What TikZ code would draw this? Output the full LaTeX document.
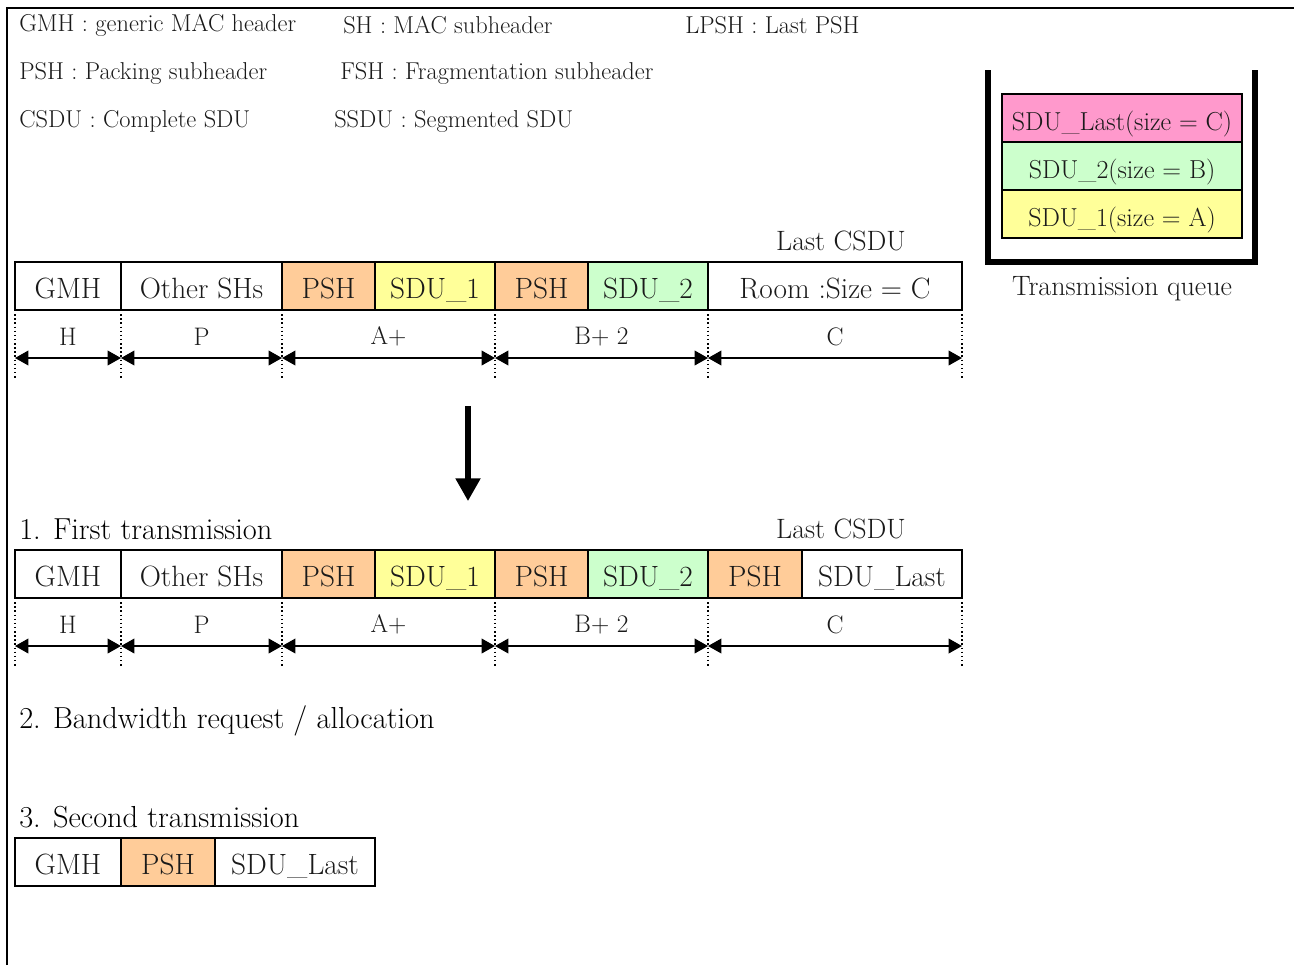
\documentclass[tikz,border=0pt]{standalone}
\usepackage{fontspec}
\usetikzlibrary{arrows.meta}
\definecolor{pshc}{HTML}{FFCC99}
\definecolor{sdua}{HTML}{FFFF99}
\definecolor{sdub}{HTML}{CCFFCC}
\definecolor{sduc}{HTML}{FF99CC}
\definecolor{txt}{HTML}{1A1A1A}
\tikzset{
  cell/.style={draw, line width=1.2pt, anchor=north west, minimum height=36pt, inner sep=0pt, outer sep=0pt,
    text height=19pt, text depth=0pt, text=txt, font=\fontsize{22}{26}\selectfont},
  cw/.style={minimum width=#1*0.75pt},
  qcell/.style={draw, line width=1.2pt, anchor=north west, minimum height=36pt, minimum width=180pt, inner sep=0pt, outer sep=0pt,
    text height=18.6pt, text depth=0pt, text=txt, font=\fontsize{19.5}{23}\selectfont},
  legend/.style={anchor=west, inner sep=0pt, text=txt, font=\fontsize{18.3}{22}\selectfont},
  head/.style={anchor=west, inner sep=0pt, text=black, font=\fontsize{22.8}{27}\selectfont},
  lbl/.style={inner sep=0pt, text=txt, font=\fontsize{21}{25}\selectfont},
  dotline/.style={line width=1.1pt, dotted},
  dim/.style={line width=1.1pt, {Triangle[length=10pt,width=11pt]}-{Triangle[length=10pt,width=11pt]}},
  dimlbl/.style={inner sep=0pt, text=txt, font=\fontsize{19}{23}\selectfont},
}
\begin{document}
\begin{tikzpicture}[x=0.75pt,y=-0.75pt]
\useasboundingbox (0,0) rectangle (1294,965);
% frame
\draw[line width=1.5pt] (7,965) -- (7,8) -- (1294,8);
% legend
\node[legend] (l1) at (19,25) {GMH : generic MAC header};
\node[legend] (l2) at (343,25) {SH : MAC subheader};
\node[legend] (l3) at (685,25) {LPSH : Last PSH};
\node[legend] (l4) at (19,73) {PSH : Packing subheader};
\node[legend] (l5) at (340,73) {FSH : Fragmentation subheader};
\node[legend] (l6) at (19,121) {CSDU : Complete SDU};
\node[legend] (l7) at (334,121) {SSDU : Segmented SDU};
% transmission queue
\draw[line width=4pt] (988,70) -- (988,262) -- (1255,262) -- (1255,70);
\node[qcell, fill=sduc] (q3) at (1002,94) {SDU\_Last(size = C)};
\node[qcell, fill=sdub] (q2) at (1002,142) {SDU\_2(size = B)};
\node[qcell, fill=sdua] (q1) at (1002,190) {SDU\_1(size = A)};
\node[lbl] (tq) at (1122,289) {Transmission queue};
% row 1
\node[lbl] (lc1) at (841,241) {Last CSDU};
\node[cell, cw=106] (a1) at (15,262) {GMH};
\node[cell, cw=161] (a2) at (121,262) {Other SHs};
\node[cell, cw=93, fill=pshc] (a3) at (282,262) {PSH};
\node[cell, cw=120, fill=sdua] (a4) at (375,262) {SDU\_1};
\node[cell, cw=93, fill=pshc] (a5) at (495,262) {PSH};
\node[cell, cw=120, fill=sdub] (a6) at (588,262) {SDU\_2};
\node[cell, cw=254] (a7) at (708,262) {Room :Size = C};
\foreach \n in {a1,a2,a3,a5,a7} \draw[dotline] (\n.south west) -- ++(0,70);
\draw[dotline] (a7.south east) -- ++(0,70);
\coordinate (p0) at (15,358);
\coordinate (p1) at (121,358);
\coordinate (p2) at (282,358);
\coordinate (p3) at (495,358);
\coordinate (p4) at (708,358);
\coordinate (p5) at (962,358);
\draw[dim] (p0) -- (p1) node[dimlbl, midway, yshift=16pt] (h1) {H};
\draw[dim] (p1) -- (p2) node[dimlbl, midway, yshift=16pt] (h2) {P};
\draw[dim] (p2) -- (p3) node[dimlbl, midway, yshift=16pt] (h3) {A+};
\draw[dim] (p3) -- (p4) node[dimlbl, midway, yshift=16pt] (h4) {B+ 2};
\draw[dim] (p4) -- (p5) node[dimlbl, midway, yshift=16pt] (h5) {C};
% down arrow
\coordinate (ds) at (468,406);
\coordinate (de) at (468,501);
\draw[line width=3.8pt, -{Triangle[length=17pt,width=18pt]}] (ds) -- (de);
% row 2
\node[head] (t1) at (19,529) {1. First transmission};
\node[lbl] (lc2) at (841,529) {Last CSDU};
\node[cell, cw=106] (b1) at (15,550) {GMH};
\node[cell, cw=161] (b2) at (121,550) {Other SHs};
\node[cell, cw=93, fill=pshc] (b3) at (282,550) {PSH};
\node[cell, cw=120, fill=sdua] (b4) at (375,550) {SDU\_1};
\node[cell, cw=93, fill=pshc] (b5) at (495,550) {PSH};
\node[cell, cw=120, fill=sdub] (b6) at (588,550) {SDU\_2};
\node[cell, cw=94, fill=pshc] (b7) at (708,550) {PSH};
\node[cell, cw=160] (b8) at (802,550) {SDU\_Last};
\foreach \n in {b1,b2,b3,b5,b7} \draw[dotline] (\n.south west) -- ++(0,70);
\draw[dotline] (b8.south east) -- ++(0,70);
\coordinate (r0) at (15,646);
\coordinate (r1) at (121,646);
\coordinate (r2) at (282,646);
\coordinate (r3) at (495,646);
\coordinate (r4) at (708,646);
\coordinate (r5) at (962,646);
\draw[dim] (r0) -- (r1) node[dimlbl, midway, yshift=16pt] (k1) {H};
\draw[dim] (r1) -- (r2) node[dimlbl, midway, yshift=16pt] (k2) {P};
\draw[dim] (r2) -- (r3) node[dimlbl, midway, yshift=16pt] (k3) {A+};
\draw[dim] (r3) -- (r4) node[dimlbl, midway, yshift=16pt] (k4) {B+ 2};
\draw[dim] (r4) -- (r5) node[dimlbl, midway, yshift=16pt] (k5) {C};
% step 2
\node[head] (t2) at (19,721) {2. Bandwidth request / allocation};
% row 3
\node[head] (t3) at (19,817) {3. Second transmission};
\node[cell, cw=106] (c1) at (15,838) {GMH};
\node[cell, cw=94, fill=pshc] (c2) at (121,838) {PSH};
\node[cell, cw=160] (c3) at (215,838) {SDU\_Last};
\end{tikzpicture}
\end{document}
